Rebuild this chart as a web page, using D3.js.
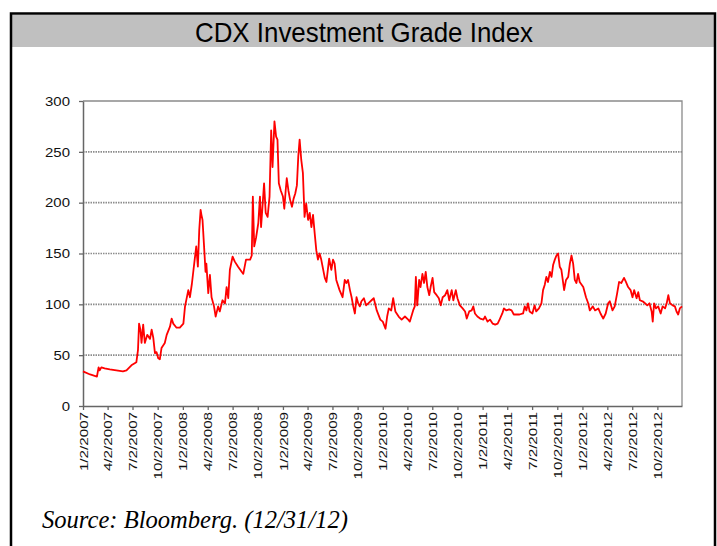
<!DOCTYPE html>
<html><head><meta charset="utf-8">
<script src="https://cdn.jsdelivr.net/npm/d3@7/dist/d3.min.js"></script>
<style>body{margin:0;background:#fff;overflow:hidden}</style>
</head><body><svg id="c" width="717" height="546"></svg>
<script>
const title = "CDX Investment Grade Index";
const source = "Source: Bloomberg. (12/31/12)";
const dates = [
"2007-01-02","2007-01-28","2007-02-22","2007-02-28","2007-03-04","2007-03-10","2007-03-22","2007-04-10","2007-05-04","2007-05-28",
"2007-06-10","2007-06-28","2007-07-16","2007-07-22","2007-07-26","2007-07-31","2007-08-04","2007-08-10","2007-08-16","2007-08-25",
"2007-09-04","2007-09-10","2007-09-16","2007-09-22","2007-09-28","2007-10-04","2007-10-10","2007-10-16","2007-10-28","2007-11-04",
"2007-11-16","2007-11-22","2007-11-28","2007-12-10","2007-12-22","2008-01-04","2008-01-10","2008-01-22","2008-01-28","2008-02-04",
"2008-02-10","2008-02-20","2008-02-26","2008-03-02","2008-03-07","2008-03-10","2008-03-14","2008-03-19","2008-03-25","2008-03-28",
"2008-04-04","2008-04-10","2008-04-16","2008-04-25","2008-05-01","2008-05-10","2008-05-16","2008-05-26","2008-06-04","2008-06-10",
"2008-06-16","2008-06-22","2008-07-02","2008-07-10","2008-07-22","2008-08-04","2008-08-10","2008-08-20","2008-09-04","2008-09-10",
"2008-09-14","2008-09-19","2008-09-26","2008-10-04","2008-10-10","2008-10-14","2008-10-20","2008-10-25","2008-10-31","2008-11-07",
"2008-11-14","2008-11-20","2008-11-25","2008-12-02","2008-12-08","2008-12-13","2008-12-18","2008-12-25","2009-01-02","2009-01-07",
"2009-01-12","2009-01-16","2009-01-22","2009-01-28","2009-02-04","2009-02-10","2009-02-16","2009-02-22","2009-02-27","2009-03-04",
"2009-03-10","2009-03-16","2009-03-22","2009-03-28","2009-04-04","2009-04-10","2009-04-16","2009-04-22","2009-04-28","2009-05-04",
"2009-05-10","2009-05-16","2009-05-22","2009-06-04","2009-06-10","2009-06-20","2009-06-28","2009-07-04","2009-07-10","2009-07-16",
"2009-07-28","2009-08-08","2009-08-16","2009-08-22","2009-08-28","2009-09-04","2009-09-10","2009-09-16","2009-09-22","2009-09-28",
"2009-10-04","2009-10-10","2009-10-16","2009-10-25","2009-11-02","2009-11-10","2009-11-22","2009-11-30","2009-12-11","2009-12-24",
"2010-01-02","2010-01-12","2010-01-18","2010-01-24","2010-02-02","2010-02-09","2010-02-17","2010-03-01","2010-03-12","2010-03-24",
"2010-04-05","2010-04-11","2010-04-23","2010-04-29","2010-05-03","2010-05-08","2010-05-15","2010-05-20","2010-05-27","2010-06-02",
"2010-06-08","2010-06-14","2010-06-21","2010-06-26","2010-07-03","2010-07-09","2010-07-18","2010-07-26","2010-08-02","2010-08-09",
"2010-08-18","2010-08-26","2010-09-02","2010-09-11","2010-09-17","2010-09-26","2010-10-02","2010-10-11","2010-10-21","2010-10-30",
"2010-11-05","2010-11-14","2010-11-23","2010-11-29","2010-12-05","2010-12-14","2010-12-24","2011-01-05","2011-01-11","2011-01-20",
"2011-01-29","2011-02-08","2011-02-17","2011-02-26","2011-03-05","2011-03-15","2011-03-21","2011-03-30","2011-04-09","2011-04-18",
"2011-04-26","2011-05-05","2011-05-17","2011-05-30","2011-06-05","2011-06-11","2011-06-17","2011-06-23","2011-07-03","2011-07-11",
"2011-07-17","2011-07-27","2011-08-05","2011-08-11","2011-08-17","2011-08-23","2011-08-29","2011-09-05","2011-09-11","2011-09-17",
"2011-09-23","2011-09-29","2011-10-05","2011-10-11","2011-10-17","2011-10-23","2011-10-27","2011-11-03","2011-11-11","2011-11-17",
"2011-11-23","2011-11-29","2011-12-05","2011-12-11","2011-12-17","2011-12-23","2012-01-05","2012-01-15","2012-01-23","2012-01-29",
"2012-02-09","2012-02-17","2012-02-29","2012-03-08","2012-03-18","2012-03-27","2012-04-05","2012-04-11","2012-04-21","2012-04-29",
"2012-05-08","2012-05-15","2012-05-23","2012-06-02","2012-06-09","2012-06-17","2012-06-26","2012-07-03","2012-07-09","2012-07-18",
"2012-07-24","2012-07-30","2012-08-09","2012-08-18","2012-08-26","2012-09-03","2012-09-11","2012-09-15","2012-09-20","2012-09-27",
"2012-10-05","2012-10-14","2012-10-21","2012-10-30","2012-11-05","2012-11-11","2012-11-17","2012-11-27","2012-12-05","2012-12-11",
"2012-12-17","2012-12-23","2012-12-31"
];
const values = [
34,31,29,38,35,38,37,36,35,34,
35,40,43,55,81,75,62,80,62,70,
66,75,67,52,53,47,46,57,62,70,
78,86,81,77,77,81,98,114,107,120,
134,157,137,173,193,188,183,160,132,140,
111,129,107,98,88,98,93,104,101,117,
106,134,147,142,137,132,130,144,144,148,
206,157,166,180,206,176,199,219,190,186,
206,271,235,280,265,262,219,212,206,194,
212,224,212,203,196,204,209,217,245,262,
242,229,186,199,183,190,176,188,170,153,
144,150,144,126,122,145,134,144,140,124,
114,107,124,121,124,114,107,98,91,107,
101,98,103,106,99,101,104,106,94,85,
83,76,88,96,94,106,93,88,85,88,
85,83,94,98,127,99,124,117,130,121,
132,117,109,117,126,112,109,106,99,107,
109,114,104,114,104,114,106,99,96,93,
86,93,94,98,91,88,86,85,88,83,
85,81,80,81,85,91,96,94,95,94,
90,90,90,91,98,94,101,93,91,99,
93,96,101,114,119,127,122,132,127,139,
144,148,150,137,134,122,114,124,127,140,
148,140,124,121,130,122,117,107,101,94,
98,94,96,91,86,91,101,103,94,98,
111,122,121,126,122,117,114,107,114,106,
112,104,103,101,99,101,93,83,101,96,
98,91,98,96,101,109,101,99,98,93,
90,96,98
];
const yTicks = [0,50,100,150,200,250,300];
const gridValues = [50,100,150,200,250];
const xTickDates = ["2007-01-02","2007-04-02","2007-07-02","2007-10-02","2008-01-02","2008-04-02","2008-07-02","2008-10-02",
"2009-01-02","2009-04-02","2009-07-02","2009-10-02","2010-01-02","2010-04-02","2010-07-02","2010-10-02",
"2011-01-02","2011-04-02","2011-07-02","2011-10-02","2012-01-02","2012-04-02","2012-07-02","2012-10-02"];
const xDomain = ["2007-01-02","2012-12-31"];

const parse = d3.utcParse("%Y-%m-%d");
const fmt = d3.utcFormat("%-m/%-d/%Y");
const svg = d3.select("#c");

// frame and title band
svg.append("rect").attr("x",12).attr("y",15).attr("width",702).attr("height",32).attr("fill","#c0c0c0");
svg.append("path").attr("d","M11,560V13.5H715V560").attr("fill","none").attr("stroke","#000").attr("stroke-width",2.5);

svg.append("text").attr("x",364).attr("y",42).attr("text-anchor","middle")
  .attr("font-family","'Liberation Sans Narrow','Arial Narrow','Liberation Sans',Arial,sans-serif")
  .attr("font-size",28.5).attr("fill","#000").attr("textLength",338).attr("lengthAdjust","spacingAndGlyphs").text(title);

const x = d3.scaleUtc().domain(xDomain.map(parse)).range([83,682]);
const y = d3.scaleLinear().domain([0,300]).range([406,101]);

// gridlines
svg.append("g").selectAll("line").data(gridValues).join("line")
  .attr("x1",83).attr("x2",682).attr("y1",d=>y(d)).attr("y2",d=>y(d))
  .attr("stroke","#8c8c8c").attr("stroke-width",1.6).attr("stroke-dasharray","1.5,1");

// plot border top/right
svg.append("path").attr("d",`M${x.range()[0]},${y(300)}H${x.range()[1]}V${y(0)}`)
  .attr("fill","none").attr("stroke","#8a8a8a").attr("stroke-width",1.3);

// axes
const yAxis = d3.axisLeft(y).tickValues(yTicks).tickSize(4).tickSizeOuter(0).tickPadding(9);
const gy = svg.append("g").attr("transform","translate(83,0)").call(yAxis);
gy.select(".domain").attr("stroke","#666").attr("stroke-width",1.5);
gy.selectAll(".tick line").attr("stroke","#666").attr("stroke-width",1.3);
gy.selectAll("text").attr("font-family","'Liberation Sans',Arial,sans-serif").attr("font-size",13).attr("fill","#111")
  .each(function(){ const w=this.getComputedTextLength(); d3.select(this).attr("textLength",w*1.15).attr("lengthAdjust","spacingAndGlyphs"); });

const xAxis = d3.axisBottom(x).tickValues(xTickDates.map(parse)).tickSize(4).tickSizeOuter(0).tickFormat(fmt);
const gx = svg.append("g").attr("transform","translate(0,406)").call(xAxis);
gx.select(".domain").attr("stroke","#666").attr("stroke-width",1.5);
gx.selectAll(".tick line").attr("stroke","#666").attr("stroke-width",1.3);
gx.selectAll("text").attr("font-family","'Liberation Sans',Arial,sans-serif").attr("font-size",11.5).attr("fill","#111")
  .attr("text-anchor","end").attr("transform","rotate(-90)").attr("x",-6).attr("y",0).attr("dy","0.36em")
  .each(function(){ const w=this.getComputedTextLength(); d3.select(this).attr("textLength",w*1.32).attr("lengthAdjust","spacingAndGlyphs"); });

// line
const series = dates.map((d,i)=>({d:parse(d),v:values[i]}));
svg.append("path").datum(series)
  .attr("d",d3.line().x(p=>x(p.d)).y(p=>y(p.v)))
  .attr("fill","none").attr("stroke","#ff0000").attr("stroke-width",1.8).attr("stroke-linejoin","round");

// source
svg.append("text").attr("x",42).attr("y",528)
  .attr("font-family","'Liberation Serif','Times New Roman',serif").attr("font-style","italic")
  .attr("font-size",26).attr("fill","#000").attr("textLength",306).attr("lengthAdjust","spacingAndGlyphs").text(source);
</script>
</body></html>
